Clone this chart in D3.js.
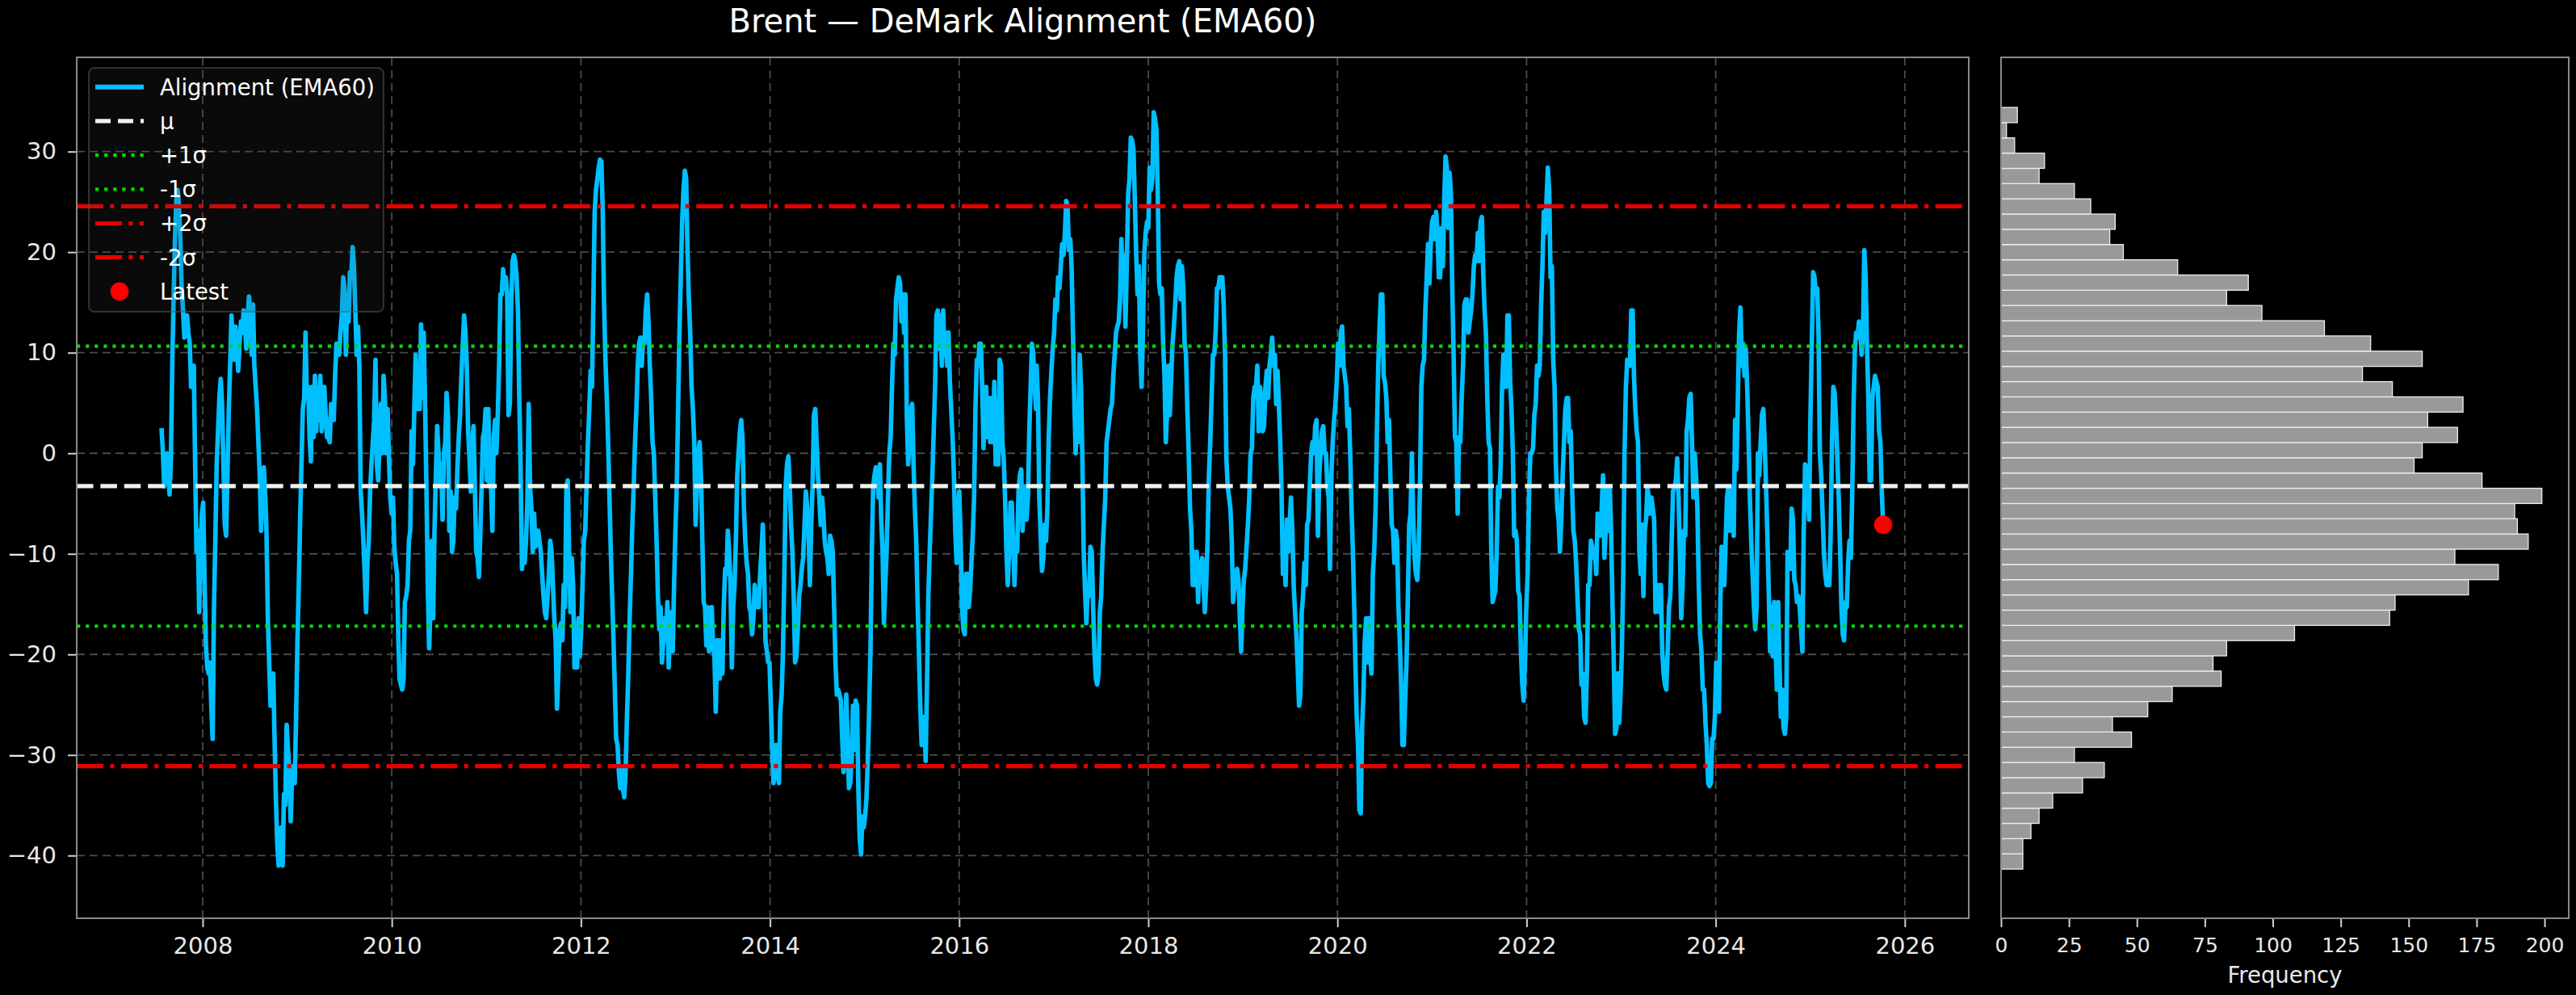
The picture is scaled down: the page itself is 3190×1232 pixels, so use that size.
<!DOCTYPE html>
<html>
<head>
<meta charset="utf-8">
<script src="https://cdn.jsdelivr.net/npm/d3@7"></script>
<style>
  html, body { margin: 0; padding: 0; background: #000; }
  svg { display: block; font-family: "DejaVu Sans", sans-serif; }
</style>
</head>
<body>
<svg id="chart" width="3190" height="1232"></svg>
<script>
// Alignment (EMA60) in six stretches; each stretch is
// sampled every stepYears starting at its own start year.
const stepYears = 0.014233;
const segStarts = [2007.5645, 2010.0814, 2013.4535, 2016.8187, 2020.1896, 2023.5645];

const seg2007 = [2.5, 0.3, -3.3, -1.6, 0, -2.2, -4.1, -0.5, 8.7, 15.3, 21.3, 25.1, 26.2, 24.6, 21.3, 16.4, 14.2, 11.5, 12.6, 13.7, 12.0, 10.9, 6.6, 7.7, 8.7, -1.1, -9.8, -7.7, -15.8, -9.8, -6.0, -4.9, -12.6, -19.1, -21.3, -21.9, -20.8, -25.1, -28.4, -15.3, -8.7, -1.1, 2.2, 5.5, 7.4, 4.9, -1.1, -7.1, -8.2, -2.2, 4.4, 8.7, 13.7, 10.9, 9.3, 12.6, 10.4, 8.2, 10.9, 13.1, 12.0, 14.2, 12.6, 10.4, 13.7, 15.6, 13.7, 9.8, 14.8, 8.7, 6.6, 4.4, 1.1, -2.2, -7.7, -3.3, -1.4, -3.8, -7.7, -16.4, -20.8, -25.1, -23.0, -21.9, -28.4, -34.4, -38.8, -41.0, -39.3, -37.2, -41.0, -33.9, -35.0, -27.0, -29.5, -31.7, -36.6, -32.2, -31.1, -32.8, -26.2, -18.6, -13.1, -6.6, -1.1, 4.4, 5.5, 12.0, 5.5, 6.6, 1.6, -0.8, 6.6, 1.6, 7.7, 2.2, 6.6, 3.3, 7.7, 2.2, 4.4, 6.6, 3.8, 1.6, 1.6, 1.1, 4.9, 3.8, 3.3, 7.7, 10.9, 10.4, 9.8, 12.0, 13.7, 17.5, 16.4, 9.8, 15.8, 13.1, 18.0, 17.5, 20.5, 18.6, 14.2, 9.8, 12.6, 8.7, -3.8, -6.0, -8.7, -12.0, -15.8, -10.9, -8.7, -3.8, -1.1, 1.1, 3.3, 9.3, -1.1, -2.7, 1.1, 4.9, 0, 7.7, 5.5, 0, 4.4, -0.5, -4.4, -6.0, -4.4, -9.3, -10.9, -12.0, -18.6];

const seg2010 = [-22.4, -23.0, -23.5, -22.4, -14.8, -14.2, -13.1, -8.7, -7.7, 2.2, -1.1, 4.4, 9.8, 4.4, 8.7, 4.4, 12.8, 5.5, 12.0, 4.9, -3.3, -13.1, -19.4, -15.3, -8.7, -16.4, -7.7, -2.2, 2.7, 0, -3.3, -1.1, -6.6, 0, 1.1, 6.0, 3.8, -7.7, -3.8, -9.8, -8.7, -4.4, -5.5, -1.6, 1.6, 3.8, 7.7, 10.9, 13.7, 12.0, 8.7, 2.2, -0.5, -3.8, 1.1, 2.7, -3.3, -9.8, -10.4, -12.3, -8.2, -3.3, 1.6, 2.2, 4.4, -2.7, 4.4, -3.3, -3.3, -7.7, 1.6, 3.3, 0, 3.8, 8.7, 15.8, 15.8, 18.3, 16.4, 17.5, 15.8, 3.8, 4.9, 14.8, 19.1, 19.7, 19.1, 17.5, 14.2, 5.5, -1.6, -11.5, -8.7, -10.9, -8.7, -4.9, 4.9, -3.3, -5.5, -9.8, -6.0, -9.3, -7.7, -7.7, -8.7, -9.8, -12.0, -14.2, -15.8, -16.4, -14.2, -12.0, -8.7, -9.8, -13.1, -16.4, -18.6, -25.4, -21.9, -17.5, -16.9, -18.6, -13.1, -15.3, -3.3, -2.7, -9.8, -15.8, -10.4, -13.1, -21.3, -18.6, -21.3, -16.4, -20.2, -17.5, -13.1, -8.7, -7.7, -3.3, 1.1, 4.4, 8.2, 6.6, 14.8, 24.0, 26.2, 27.3, 28.4, 29.2, 29.0, 24.0, 14.8, 9.3, 5.5, 1.1, -4.4, -9.8, -14.2, -18.6, -23.5, -28.4, -29.0, -31.7, -33.3, -31.1, -33.3, -34.2, -31.7, -26.2, -21.9, -16.4, -12.0, -7.1, -3.3, 1.1, 4.4, 8.7, 10.9, 11.5, 8.7, 11.5, 10.9, 14.2, 15.8, 13.1, 8.7, 5.5, 1.1, 0, -4.4, -8.7, -14.2, -17.5, -15.3, -20.8, -18.6, -16.4, -18.6, -14.8, -21.3, -15.8, -18.6, -19.7, -13.1, -7.7, -3.3, 4.4, 12.0, 17.5, 23.0, 26.2, 28.1, 27.3, 20.2, 15.3, 12.0, 6.6, 4.4, 1.1, -7.1, -3.3, 0, 1.1, -2.2, -8.7, -14.8, -15.3, -19.1, -15.3, -19.7, -19.1, -15.3, -19.1, -20.2, -25.7, -18.6];

const seg2013 = [-18.6, -22.4, -18.6, -21.9, -15.3, -11.5, -12.0, -7.7, -9.8, -13.1, -21.3, -15.3, -13.1, -8.7, -2.2, 0, 2.2, 3.3, 1.1, -5.5, -8.7, -10.9, -12.0, -15.3, -15.8, -18.0, -16.4, -13.1, -15.3, -13.7, -15.3, -12.0, -9.8, -7.1, -12.0, -18.6, -19.7, -20.8, -20.8, -25.1, -29.5, -32.8, -31.7, -29.0, -31.7, -32.8, -25.7, -24.0, -19.7, -12.0, -3.3, -1.1, -0.3, -3.3, -7.1, -9.8, -14.2, -20.8, -20.2, -17.5, -14.2, -13.1, -11.5, -10.4, -7.1, -3.8, -5.5, -7.7, -13.1, -7.1, -3.3, 3.8, 4.4, 1.1, -2.2, -4.4, -7.1, -4.4, -6.0, -8.7, -9.8, -10.4, -12.0, -8.2, -8.7, -9.8, -15.3, -20.8, -24.0, -23.5, -24.0, -24.6, -28.4, -31.7, -30.1, -24.0, -28.4, -33.3, -32.8, -30.6, -25.1, -29.5, -24.6, -25.1, -33.3, -38.3, -39.9, -36.1, -37.2, -36.1, -34.4, -30.6, -25.7, -19.7, -9.8, -3.3, -2.2, -1.4, -2.2, -4.4, -1.1, -6.6, -9.8, -16.9, -13.1, -9.8, -4.4, 0, 1.6, 6.6, 10.9, 9.8, 15.3, 16.4, 17.5, 16.9, 13.1, 15.8, 12.0, 15.8, 3.8, -1.1, 1.1, 4.4, 4.9, -1.1, -5.5, -8.7, -14.8, -19.7, -25.1, -29.0, -28.4, -26.2, -30.6, -22.9, -14.2, -9.8, -6.0, -2.2, 2.2, 6.6, 13.7, 14.2, 10.4, 13.7, 8.7, 14.2, 9.8, 12.0, 8.7, 12.0, 7.1, 4.4, 1.6, -2.2, -7.7, -10.9, -6.6, -3.8, -8.7, -15.3, -17.5, -18.0, -12.0, -12.0, -15.3, -13.7, -10.9, -8.2, -4.4, 4.4, 9.3, 8.7, 10.9, 10.9, 6.6, 0.5, 5.5, 6.6, 1.6, 5.5, 1.1, 5.5, 1.1, 7.1, -1.1, 4.4, -1.1, 9.3, 8.7, 1.1, -0.5, -4.4, -9.8, -13.1, -9.8, -4.9, -4.9, -8.7, -13.1, -8.7, -9.8, -3.8, -2.2, -1.6, -7.7, -4.4, -3.3, -6.6, -4.4, 2.2, 6.6, 10.9, 9.8, 6.6, 4.4];

const seg2016 = [8.7, 5.5, -4.4, -8.2, -11.7, -10.4, -7.1, -8.7, -5.5, 1.6, 5.5, 8.2, 10.4, 12.0, 15.3, 14.2, 17.5, 16.4, 18.6, 20.8, 19.7, 21.9, 25.1, 24.6, 20.2, 21.3, 18.6, 12.0, 5.5, 0, 4.4, 1.1, 9.8, 6.6, -0.5, -9.8, -13.7, -16.9, -13.1, -14.2, -9.3, -9.8, -15.3, -19.7, -22.4, -23.0, -21.9, -15.8, -14.2, -9.8, -7.1, -4.4, 1.1, 2.2, 3.3, 4.4, 4.9, 7.7, 9.8, 12.0, 12.6, 13.1, 15.3, 21.3, 16.4, 19.7, 12.6, 18.6, 25.7, 27.3, 31.4, 31.1, 30.1, 25.1, 19.7, 15.8, 18.6, 9.8, 6.6, 12.0, 19.7, 21.9, 23.0, 22.4, 28.4, 26.2, 27.3, 33.9, 33.3, 32.2, 25.7, 16.9, 15.8, 16.4, 10.9, 7.7, 1.1, 4.4, 8.7, 3.8, 7.7, 10.9, 12.6, 14.8, 17.5, 18.6, 19.1, 15.3, 18.6, 16.4, 10.9, 9.8, 4.4, 0, -5.5, -7.7, -13.1, -9.8, -13.1, -9.8, -14.8, -10.9, -12.0, -10.4, -13.1, -15.8, -13.1, -8.7, -2.2, 1.1, 5.5, 9.8, 9.8, 12.0, 16.4, 16.4, 17.5, 17.5, 17.5, 14.8, 9.8, -0.5, -3.3, -4.4, -5.5, -8.7, -14.8, -13.1, -12.0, -11.5, -12.6, -16.4, -19.7, -15.3, -12.6, -11.5, -9.3, -7.1, -4.4, 0, 0.5, 5.5, 6.6, 6.6, 8.7, 2.2, 6.6, 5.5, 2.2, 2.7, 6.6, 8.2, 5.5, 8.7, 9.8, 11.5, 8.7, 9.8, 4.9, 8.2, 4.9, 1.1, -3.8, -12.0, -9.8, -13.1, -6.6, -9.8, -7.1, -4.4, -7.7, -13.1, -15.8, -18.0, -21.3, -25.1, -24.0, -15.8, -14.2, -10.9, -13.1, -7.1, -6.6, -3.3, 0, 1.1, 0, 2.7, 3.3, -8.2, -2.2, 0, 2.2, 2.7, 0, 0, -3.3, -4.4, -11.5, -2.2, 1.1, 3.3, 4.9, 7.1, 10.9, 8.7, 12.0, 12.6, 8.7, 7.7, 6.6, 2.7, 4.4, 0, -5.5, -9.8, -15.3];

const seg2020 = [-20.8, -26.2, -29.0, -35.5, -35.8, -27.3, -24.0, -18.6, -16.4, -20.8, -16.4, -20.2, -21.9, -12.0, -9.8, -5.5, 2.2, 8.7, 12.6, 15.8, 15.8, 7.7, 7.1, 5.5, 1.1, 3.3, -2.2, -7.1, -7.7, -10.9, -7.7, -8.7, -15.3, -18.6, -23.0, -29.0, -29.0, -24.6, -20.8, -14.2, -7.1, -6.0, 0, -6.6, -10.4, -12.0, -12.6, -9.8, -3.3, 6.6, 8.7, 9.3, 14.2, 17.5, 20.8, 16.9, 20.8, 23.0, 23.5, 21.3, 24.0, 21.9, 17.5, 17.5, 22.4, 18.6, 25.1, 29.5, 28.4, 22.4, 27.9, 25.7, 16.4, 9.8, 1.6, 1.1, -6.0, 1.6, 1.1, 5.5, 8.7, 14.8, 15.3, 15.3, 12.0, 13.1, 14.2, 15.8, 18.6, 19.7, 19.1, 21.9, 19.1, 23.0, 23.5, 18.0, 14.2, 12.0, 5.5, 1.1, 0.5, -9.8, -14.8, -14.2, -13.7, -9.8, -3.3, -4.4, -1.1, 6.6, 9.8, 9.3, 6.6, 13.7, 13.7, 7.1, 4.4, 0, -8.2, -7.7, -8.7, -13.7, -14.2, -19.7, -23.0, -24.6, -20.8, -15.3, -12.0, -4.4, 0, 0, 0.5, 3.8, 4.9, 8.7, 7.7, 8.7, 14.8, 18.6, 24.0, 21.9, 25.1, 28.4, 26.2, 17.5, 18.6, 9.3, 6.6, -1.1, -5.5, -6.6, -9.8, -6.6, -2.2, 1.1, 4.4, 5.5, 5.5, 1.1, 2.2, -3.3, -7.7, -8.7, -10.9, -14.2, -17.5, -18.0, -23.0, -21.9, -26.2, -26.8, -21.9, -13.1, -13.1, -8.7, -9.3, -10.4, -9.8, -12.0, -6.0, -7.1, -8.2, -5.5, -2.2, -10.4, -7.7, -3.3, -7.7, -3.3, -7.7, -14.8, -20.8, -27.9, -27.3, -21.9, -26.8, -24.0, -19.7, -12.6, 0, 6.6, 9.3, 8.7, 8.7, 14.2, 14.2, 7.7, 4.4, 2.2, 1.1, -9.8, -12.0, -7.1, -14.2, -7.7, -6.6, -3.3, -4.4, -6.0, -4.4, -5.5, -6.6, -15.8, -15.3, -13.1, -15.8, -13.1, -19.7, -21.9, -23.0, -23.5, -19.7, -15.3, -14.2, -8.7, -3.8];

const seg2023 = [-3.3, -2.7, -0.5, -4.4, -9.8, -16.4, -13.1, -7.7, -8.2, 2.2, 3.3, 5.5, 5.9, 1.1, -4.4, 0, -2.2, -5.5, -13.1, -18.0, -19.7, -23.5, -23.5, -26.8, -29.0, -32.8, -33.1, -32.8, -28.4, -28.4, -26.2, -20.8, -20.8, -25.7, -15.3, -9.3, -9.8, -13.1, -8.7, -4.4, -3.3, -7.7, -3.3, -4.4, -8.2, 3.3, -1.6, 4.9, 12.0, 14.5, 8.7, 10.9, 7.7, 10.4, 6.6, 1.6, -4.4, -8.7, -12.0, -15.3, -17.5, -15.3, 0, -2.2, 1.1, 3.8, 4.4, 1.1, -3.3, -8.2, -13.7, -19.7, -15.3, -20.2, -14.8, -18.6, -23.5, -14.8, -20.8, -26.2, -23.5, -27.3, -27.9, -26.2, -9.8, -11.5, -11.5, -5.5, -6.6, -12.6, -13.1, -14.8, -14.2, -15.3, -17.5, -19.7, -7.7, -1.1, -1.6, -3.3, -6.6, 3.8, 10.9, 18.0, 17.5, 15.8, 16.4, 12.0, 0, -2.2, -6.0, -9.8, -12.0, -13.1, -13.1, -13.1, -8.2, 1.1, 6.6, 6.0, 3.3, -0.5, -4.4, -9.3, -15.3, -18.0, -18.6, -14.8, -15.3, -10.9, -8.7, -10.4, -4.4, 4.4, 10.4, 12.0, 11.5, 13.1, 12.6, 9.8, 12.0, 20.2, 17.5, 10.9, 5.5, -2.7, -2.7, 5.5, 6.6, 7.7, 7.1, 6.6, 2.2, 1.1, -3.8, -7.1];

const segValues = [seg2007, seg2010, seg2013, seg2016, seg2020, seg2023];

// band levels
const mu = -3.27;
const sigma = 13.92;

// histogram of the series, bins from bottom (low) to top (high)
const histLow = -41.35;
const histHigh = 34.39;
const histCounts = [8, 8, 11, 14, 19, 30, 38, 27, 48, 41, 54, 63, 81, 78, 83, 108, 143, 145, 172, 183, 167, 194, 190, 189, 199, 177, 152, 155, 168, 157, 170, 144, 133, 155, 136, 119, 96, 83, 91, 65, 45, 40, 42, 33, 27, 14, 16, 5, 2, 6];

const yTicks = [-40, -30, -20, -10, 0, 10, 20, 30];
const xTicks = [2008, 2010, 2012, 2014, 2016, 2018, 2020, 2022, 2024, 2026];
const freqTicks = [0, 25, 50, 75, 100, 125, 150, 175, 200];

const series = [];
segValues.forEach((vals, k) => {
    vals.forEach((v, i) => series.push({ year: segStarts[k] + i * stepYears, value: v }));
});
const latest = series[series.length - 1];

const svg = d3.select('#chart');
svg.append('rect').attr('width', 3190).attr('height', 1232).attr('fill', '#000');

const main = { left: 95, right: 2438, top: 71, bottom: 1137 };
const hist = { left: 2478, right: 3181, top: 71, bottom: 1137 };

const x = d3.scaleLinear().domain([2006.668, 2026.676]).range([main.left, main.right]);
const y = d3.scaleLinear().domain([-46.24, 39.37]).range([main.bottom, main.top]);
const hx = d3.scaleLinear().domain([0, 208.9]).range([hist.left, hist.right]);

const textColor = '#e8e8e8';
const gridColor = '#4a4a4a';

// grid
const grid = svg.append('g');
grid.selectAll('.gy').data(yTicks).enter().append('line')
    .attr('x1', main.left).attr('x2', main.right)
    .attr('y1', d => y(d)).attr('y2', d => y(d))
    .attr('stroke', gridColor).attr('stroke-width', 1.8).attr('stroke-dasharray', '10,6');
grid.selectAll('.gx').data(xTicks).enter().append('line')
    .attr('y1', main.top).attr('y2', main.bottom)
    .attr('x1', d => x(d)).attr('x2', d => x(d))
    .attr('stroke', gridColor).attr('stroke-width', 1.8).attr('stroke-dasharray', '10,6');

// clip for main plot
svg.append('clipPath').attr('id', 'mainClip').append('rect')
    .attr('x', main.left).attr('y', main.top)
    .attr('width', main.right - main.left).attr('height', main.bottom - main.top);

const plot = svg.append('g').attr('clip-path', 'url(#mainClip)');

const line = d3.line().x(d => x(d.year)).y(d => y(d.value));
plot.append('path').datum(series)
    .attr('d', line)
    .attr('fill', 'none')
    .attr('stroke', '#00bfff')
    .attr('stroke-width', 5.6)
    .attr('stroke-linejoin', 'round');

const bands = [
    { v: mu, color: '#f0f0f0', width: 5.2, dash: '20.5,8.9' },
    { v: mu + sigma, color: '#00dd00', width: 4.2, dash: '4.2,6.9' },
    { v: mu - sigma, color: '#00dd00', width: 4.2, dash: '4.2,6.9' },
    { v: mu + 2 * sigma, color: '#e60000', width: 5.2, dash: '33,8.3,5.2,8.3' },
    { v: mu - 2 * sigma, color: '#e60000', width: 5.2, dash: '33,8.3,5.2,8.3' }
];
plot.selectAll('.band').data(bands).enter().append('line')
    .attr('x1', main.left).attr('x2', main.right)
    .attr('y1', d => y(d.v)).attr('y2', d => y(d.v))
    .attr('stroke', d => d.color)
    .attr('stroke-width', d => d.width)
    .attr('stroke-dasharray', d => d.dash);

plot.append('circle')
    .attr('cx', x(latest.year)).attr('cy', y(latest.value)).attr('r', 11.3)
    .attr('fill', '#ff0000');

// axes
function styleAxis(g, size) {
    g.select('.domain').remove();
    g.selectAll('.tick line').attr('stroke', '#d0d0d0').attr('stroke-width', 2);
    g.selectAll('.tick text').attr('fill', textColor).style('font-size', size + 'px')
        .style('font-family', '"DejaVu Sans", sans-serif');
}

svg.append('g')
    .attr('transform', `translate(0,${main.bottom})`)
    .call(d3.axisBottom(x).tickValues(xTicks).tickFormat(d3.format('d')).tickSize(11).tickPadding(12))
    .call(g => styleAxis(g, 29));

svg.append('g')
    .attr('transform', `translate(${main.left},0)`)
    .call(d3.axisLeft(y).tickValues(yTicks).tickFormat(d3.format('d')).tickSize(11).tickPadding(14))
    .call(g => styleAxis(g, 29));

// spines
svg.append('rect')
    .attr('x', main.left).attr('y', main.top)
    .attr('width', main.right - main.left).attr('height', main.bottom - main.top)
    .attr('fill', 'none').attr('stroke', '#8a8a8a').attr('stroke-width', 2);

// histogram
const binW = (histHigh - histLow) / histCounts.length;
svg.append('g').selectAll('rect').data(histCounts).enter().append('rect')
    .attr('x', hx(0))
    .attr('y', (d, i) => y(histLow + (i + 1) * binW))
    .attr('width', d => hx(d) - hx(0))
    .attr('height', (d, i) => y(histLow + i * binW) - y(histLow + (i + 1) * binW))
    .attr('fill', '#999999')
    .attr('stroke', '#eeeeee')
    .attr('stroke-width', 1.3);

svg.append('g')
    .attr('transform', `translate(0,${hist.bottom})`)
    .call(d3.axisBottom(hx).tickValues(freqTicks).tickFormat(d3.format('d')).tickSize(11).tickPadding(13))
    .call(g => styleAxis(g, 25));

svg.append('rect')
    .attr('x', hist.left).attr('y', hist.top)
    .attr('width', hist.right - hist.left).attr('height', hist.bottom - hist.top)
    .attr('fill', 'none').attr('stroke', '#8a8a8a').attr('stroke-width', 2);

svg.append('text')
    .attr('x', (hist.left + hist.right) / 2).attr('y', 1217)
    .attr('text-anchor', 'middle')
    .attr('fill', textColor)
    .style('font-size', '27.5px')
    .text('Frequency');

// title
svg.append('text')
    .attr('x', (main.left + main.right) / 2).attr('y', 40)
    .attr('text-anchor', 'middle')
    .attr('fill', '#ffffff')
    .style('font-size', '40px')
    .text('Brent \u2014 DeMark Alignment (EMA60)');

// legend
const legendItems = [
    { label: 'Alignment (EMA60)', kind: 'line', color: '#00bfff', width: 6, dash: null },
    { label: '\u03bc', kind: 'line', color: '#f0f0f0', width: 5.2, dash: '19,9' },
    { label: '+1\u03c3', kind: 'line', color: '#00dd00', width: 4.2, dash: '4.2,6.9' },
    { label: '-1\u03c3', kind: 'line', color: '#00dd00', width: 4.2, dash: '4.2,6.9' },
    { label: '+2\u03c3', kind: 'line', color: '#e60000', width: 5.2, dash: '33,8.3,5.2,8.3' },
    { label: '-2\u03c3', kind: 'line', color: '#e60000', width: 5.2, dash: '33,8.3,5.2,8.3' },
    { label: 'Latest', kind: 'dot', color: '#ff0000' }
];

const legend = svg.append('g');
legend.append('rect')
    .attr('x', 110).attr('y', 84).attr('width', 365).attr('height', 302).attr('rx', 7)
    .attr('fill', '#444').attr('fill-opacity', 0.15)
    .attr('stroke', '#555').attr('stroke-opacity', 0.55).attr('stroke-width', 2);

const rows = legend.selectAll('.item').data(legendItems).enter().append('g')
    .attr('transform', (d, i) => `translate(0,${107.7 + i * 42.2})`);

rows.filter(d => d.kind === 'line').append('line')
    .attr('x1', 118).attr('x2', 178).attr('y1', 0).attr('y2', 0)
    .attr('stroke', d => d.color)
    .attr('stroke-width', d => d.width)
    .attr('stroke-dasharray', d => d.dash);

rows.filter(d => d.kind === 'dot').append('circle')
    .attr('cx', 148).attr('cy', 0).attr('r', 11.3).attr('fill', d => d.color);

rows.append('text')
    .attr('x', 198).attr('y', 0).attr('dy', '0.36em')
    .attr('fill', '#ffffff')
    .style('font-size', '27.5px')
    .text(d => d.label);
</script>
</body>
</html>
